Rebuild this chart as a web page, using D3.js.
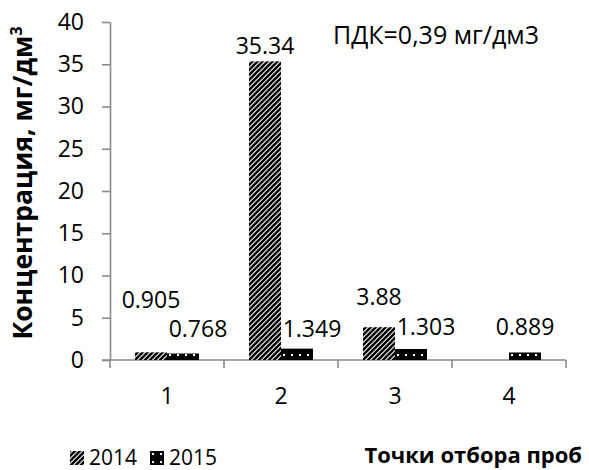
<!DOCTYPE html>
<html>
<head>
<meta charset="utf-8">
<script src="https://cdn.jsdelivr.net/npm/d3@7"></script>
<style>
  html, body { margin: 0; padding: 0; background: #ffffff; }
  svg { display: block; font-family: "Open Sans", "Noto Sans", sans-serif; }
</style>
</head>
<body>
<svg id="chart" width="589" height="470"></svg>
<script>
// Sampling points and measured concentrations, mg/dm3
const categories = ["1", "2", "3", "4"];
const seriesNames = ["2014", "2015"];
const values2014 = [0.905, 35.34, 3.88, null];
const values2015 = [0.768, 1.349, 1.303, 0.889];
const yTicks = [0, 5, 10, 15, 20, 25, 30, 35, 40];

// Hand-placed label nudges (dx, dy) per series, per category
const labelNudge2014 = [[0, -37], [0, 0], [0, -15], [0, 0]];
const labelNudge2015 = [[15, -10], [15, -5], [15, -7], [0, -10]];

const svg = d3.select("#chart");
const plot = { left: 110, right: 566, top: 22, bottom: 360 };
const axisColor = "#8a8a8a";
const textSize = 23;

// Fill patterns: diagonal hatch for 2014, black with white dots for 2015
const defs = svg.append("defs");
const hatch = defs.append("pattern")
  .attr("id", "fill2014").attr("patternUnits", "userSpaceOnUse")
  .attr("width", 5).attr("height", 5);
hatch.append("rect").attr("width", 5).attr("height", 5).attr("fill", "#fff");
hatch.append("path")
  .attr("d", "M-1,1 L1,-1 M0,5 L5,0 M4,6 L6,4")
  .attr("stroke", "#000").attr("stroke-width", 2.5);

const dots = defs.append("pattern")
  .attr("id", "fill2015").attr("patternUnits", "userSpaceOnUse")
  .attr("width", 8).attr("height", 8);
dots.append("rect").attr("width", 8).attr("height", 8).attr("fill", "#000");
dots.append("rect").attr("x", 2).attr("y", 2).attr("width", 2).attr("height", 2).attr("fill", "#fff");

const fills = { "2014": "url(#fill2014)", "2015": "url(#fill2015)" };

// Scales
const x0 = d3.scaleBand().domain(categories)
  .range([plot.left, plot.right])
  .paddingInner(0.4386).paddingOuter(0.2193);
const x1 = d3.scaleBand().domain(seriesNames).range([0, x0.bandwidth()]);
const y = d3.scaleLinear().domain([0, 40]).range([plot.bottom, plot.top]);

const rows = categories.map((c, i) => ({
  cat: c,
  items: [
    { s: "2014", v: values2014[i], nudge: labelNudge2014[i] },
    { s: "2015", v: values2015[i], nudge: labelNudge2015[i] }
  ].filter(d => d.v != null)
}));

// Y axis
const yAxis = svg.append("g")
  .attr("transform", `translate(${plot.left},0)`)
  .call(d3.axisLeft(y).tickValues(yTicks).tickSize(8).tickPadding(18).tickSizeOuter(0));
yAxis.select(".domain").attr("stroke", axisColor).attr("stroke-width", 1.6);
yAxis.selectAll(".tick line").attr("stroke", axisColor).attr("stroke-width", 1.6);
yAxis.selectAll(".tick text")
  .attr("font-size", textSize).attr("fill", "#000")
  .attr("font-family", "Open Sans");

// X axis: labels at category centres, ticks at category boundaries
const xAxis = svg.append("g")
  .attr("transform", `translate(0,${plot.bottom})`)
  .call(d3.axisBottom(x0).tickSize(0).tickPadding(28).tickSizeOuter(0));
xAxis.select(".domain").remove();
xAxis.selectAll(".tick text")
  .attr("font-size", textSize).attr("fill", "#000")
  .attr("font-family", "Open Sans");

const boundaries = categories.map(c => x0(c) - x0.step() * x0.paddingInner() / 2)
  .concat([plot.right]);
xAxis.selectAll(".bound").data(boundaries).join("line")
  .attr("x1", d => d).attr("x2", d => d)
  .attr("y1", 0).attr("y2", 8)
  .attr("stroke", axisColor).attr("stroke-width", 1.6);
xAxis.append("line")
  .attr("x1", plot.left - 8).attr("x2", plot.right)
  .attr("y1", 0).attr("y2", 0)
  .attr("stroke", axisColor).attr("stroke-width", 1.6);

// Bars
const groups = svg.append("g").selectAll("g").data(rows).join("g")
  .attr("transform", d => `translate(${x0(d.cat)},0)`);

groups.selectAll("rect").data(d => d.items).join("rect")
  .attr("x", d => x1(d.s))
  .attr("y", d => y(d.v))
  .attr("width", x1.bandwidth())
  .attr("height", d => y(0) - y(d.v))
  .attr("fill", d => fills[d.s]);

// Value labels
groups.selectAll("text").data(d => d.items).join("text")
  .attr("x", d => x1(d.s) + x1.bandwidth() / 2 + d.nudge[0])
  .attr("y", d => y(d.v) - 7 + d.nudge[1])
  .attr("text-anchor", "middle")
  .attr("font-size", textSize)
  .attr("fill", "#000")
  .text(d => d.v);

// Limit annotation
svg.append("text")
  .attr("x", 333).attr("y", 44)
  .attr("font-size", 25).attr("fill", "#000")
  .text("ПДК=0,39 мг/дм3");

// Y axis title
const yTitle = svg.append("text")
  .attr("transform", "translate(32,183) rotate(-90)")
  .attr("text-anchor", "middle")
  .attr("font-size", 26.5).attr("font-weight", "bold").attr("fill", "#000");
yTitle.append("tspan").text("Концентрация, мг/дм");
yTitle.append("tspan").attr("font-size", 16).attr("dy", -10).text("3");

// X axis title
svg.append("text")
  .attr("x", 582).attr("y", 463)
  .attr("text-anchor", "end")
  .attr("font-size", 22).attr("font-weight", "bold").attr("fill", "#000")
  .text("Точки отбора проб");

// Legend
const legend = svg.append("g").selectAll("g").data(seriesNames).join("g")
  .attr("transform", (d, i) => `translate(${70 + i * 80},451)`);
legend.append("rect")
  .attr("width", 14).attr("height", 14)
  .attr("fill", d => fills[d]);
legend.append("text")
  .attr("x", 19).attr("y", 14)
  .attr("font-size", 21).attr("fill", "#000")
  .text(d => d);
</script>
</body>
</html>
